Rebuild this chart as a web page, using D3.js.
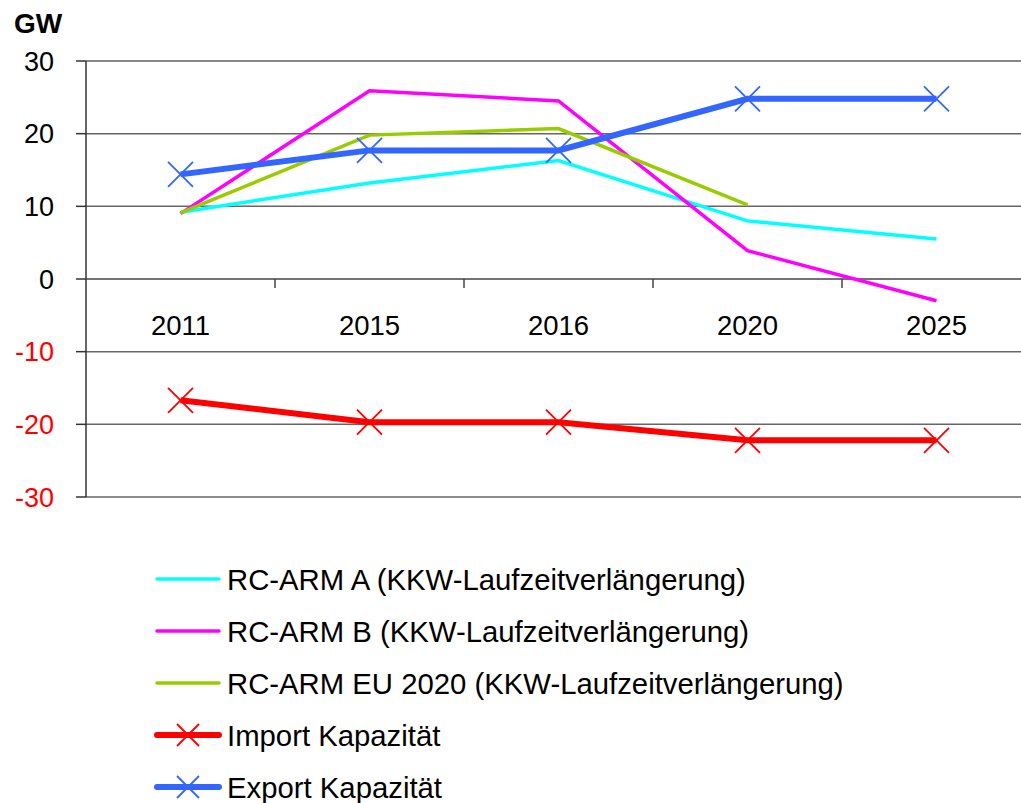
<!DOCTYPE html>
<html><head><meta charset="utf-8">
<script src="https://cdn.jsdelivr.net/npm/d3@7/dist/d3.min.js"></script>
<style>body{margin:0;background:#fff}svg{display:block;font-family:"Liberation Sans",Arial,sans-serif}</style>
</head><body><svg id="c" width="1021" height="803"></svg>
<script>
const categories = ["2011","2015","2016","2020","2025"];
const yTicks = [30,20,10,0,-10,-20,-30];
const rcArmA = [9.2,13.2,16.3,8.0,5.5];
const rcArmB = [9.0,25.9,24.5,3.9,-3.0];
const rcArmEU = [9.1,19.8,20.7,10.2,null];
const importKap = [-16.7,-19.7,-19.7,-22.2,-22.2];
const exportKap = [14.4,17.7,17.7,24.8,24.8];
const seriesNames = ["RC-ARM A (KKW-Laufzeitverlängerung)","RC-ARM B (KKW-Laufzeitverlängerung)","RC-ARM EU 2020 (KKW-Laufzeitverlängerung)","Import Kapazität","Export Kapazität"];

const series = [
  {name:seriesNames[0], values:rcArmA, color:"#00FFFF", w:3.5, marker:false},
  {name:seriesNames[1], values:rcArmB, color:"#FF00FF", w:3.5, marker:false},
  {name:seriesNames[2], values:rcArmEU, color:"#99CC00", w:3.5, marker:false},
  {name:seriesNames[3], values:importKap, color:"#FF0000", w:6, marker:true},
  {name:seriesNames[4], values:exportKap, color:"#3366FF", w:6, marker:true}
];

const svg = d3.select("#c");
const pLeft = 86, pRight = 1031, pTop = 61, pBottom = 497;
const x = d3.scaleBand().domain(categories).range([pLeft, pRight]);
const y = d3.scaleLinear().domain([-30, 30]).range([pBottom, pTop]);
const cx = c => x(c) + x.bandwidth()/2;

// gridlines
svg.append("g").selectAll("line").data(yTicks.filter(d=>d!==0)).join("line")
  .attr("x1", pLeft).attr("x2", 1021).attr("y1", d=>y(d)).attr("y2", d=>y(d))
  .attr("stroke", d=> d===30 ? "#888" : "#666").attr("stroke-width", d=> d===30 ? 2 : 1.5);

// y axis
svg.append("line").attr("x1", pLeft).attr("x2", pLeft).attr("y1", pTop).attr("y2", pBottom)
  .attr("stroke", "#333").attr("stroke-width", 1.5);
svg.append("g").selectAll("line").data(yTicks).join("line")
  .attr("x1", pLeft-10).attr("x2", pLeft).attr("y1", d=>y(d)).attr("y2", d=>y(d))
  .attr("stroke", "#333").attr("stroke-width", 1.5);
svg.append("g").selectAll("text").data(yTicks).join("text")
  .attr("x", 54).attr("y", d=>y(d)).attr("dy", "0.36em").attr("text-anchor", "end")
  .attr("font-size", 27).attr("fill", d=> d<0 ? "#FF0000" : "#000").text(d=>d);
svg.append("text").attr("x", 14).attr("y", 33).attr("font-size", 28).attr("font-weight", "bold").text("GW");

// zero axis
svg.append("line").attr("x1", pLeft).attr("x2", 1021).attr("y1", y(0)).attr("y2", y(0))
  .attr("stroke", "#444").attr("stroke-width", 1.5);
svg.append("g").selectAll("line").data(categories.slice(1)).join("line")
  .attr("x1", d=>x(d)).attr("x2", d=>x(d)).attr("y1", y(0)).attr("y2", y(0)+9)
  .attr("stroke", "#444").attr("stroke-width", 1.5);
svg.append("g").selectAll("text").data(categories).join("text")
  .attr("x", d=>cx(d)).attr("y", 335).attr("text-anchor", "middle")
  .attr("font-size", 27.5).text(d=>d);

const line = d3.line().defined(d=>d.v!==null).x(d=>cx(d.c)).y(d=>y(d.v));
function xMark(g, px, py, s, color){
  g.append("path").attr("d", `M${px-s},${py-s}L${px+s},${py+s}M${px-s},${py+s}L${px+s},${py-s}`)
    .attr("stroke", color).attr("stroke-width", 1.8).attr("fill","none");
}
series.forEach(s=>{
  const pts = categories.map((c,i)=>({c, v:s.values[i]}));
  svg.append("path").datum(pts).attr("d", line).attr("fill","none")
    .attr("stroke", s.color).attr("stroke-width", s.w).attr("stroke-linejoin","miter");
  if (s.marker){
    const g = svg.append("g");
    pts.filter(p=>p.v!==null).forEach(p=> xMark(g, cx(p.c), y(p.v), 12.5, s.color));
  }
});

// legend
const legY = [579, 631, 683, 735, 787];
series.forEach((s,i)=>{
  const g = svg.append("g");
  g.append("line").attr("x1",157).attr("x2",219).attr("y1",legY[i]).attr("y2",legY[i])
    .attr("stroke", s.color).attr("stroke-width", s.w).attr("stroke-linecap","round");
  if (s.marker) xMark(g, 188, legY[i], 11, s.color);
  g.append("text").attr("x", 227).attr("y", legY[i]).attr("dy","0.36em")
    .attr("font-size", 29.3).text(s.name);
});
</script></body></html>
